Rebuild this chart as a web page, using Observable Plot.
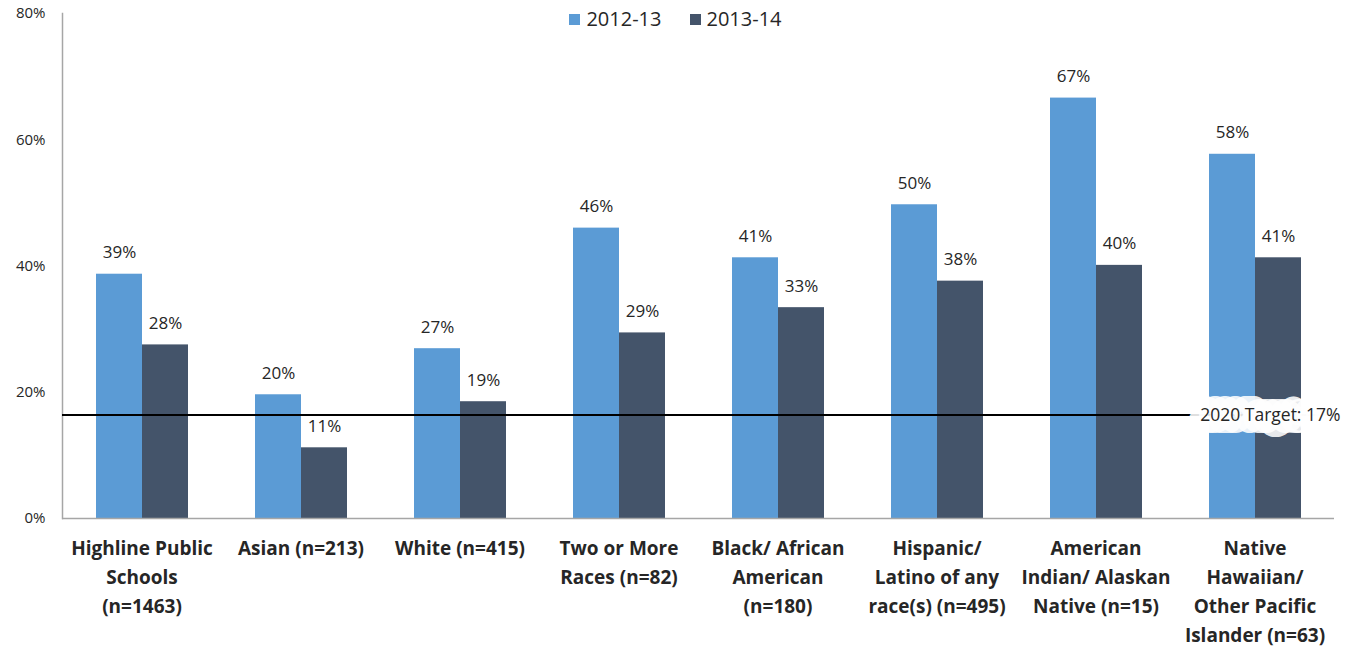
<!DOCTYPE html>
<html>
<head>
<meta charset="utf-8">
<script src="https://cdn.jsdelivr.net/npm/d3@7"></script>
<script src="https://cdn.jsdelivr.net/npm/@observablehq/plot@0.6"></script>
<style>
  body { margin: 0; background: #fff; font-family: "Open Sans", Lato, sans-serif; }
  #wrap { position: relative; width: 1351px; height: 650px; }
  #legend { position: absolute; top: 5px; left: 0; width: 1351px; text-align: center; font-size: 20px; color: #262626; }
  #legend span.item { margin: 0 14px; }
  #legend span.sw { display: inline-block; width: 11px; height: 11px; margin-right: 6px; vertical-align: 1px; }
</style>
</head>
<body>
<div id="wrap">
  <div id="chart"></div>
  <div id="legend"></div>
</div>
<script>
const categories = [
  "Highline Public\nSchools\n(n=1463)",
  "Asian (n=213)",
  "White (n=415)",
  "Two or More\nRaces (n=82)",
  "Black/ African\nAmerican\n(n=180)",
  "Hispanic/\nLatino of any\nrace(s) (n=495)",
  "American\nIndian/ Alaskan\nNative (n=15)",
  "Native\nHawaiian/\nOther Pacific\nIslander (n=63)"
];
const series = ["2012-13", "2013-14"];
const values2012 = [38.7, 19.6, 26.9, 46.0, 41.3, 49.7, 66.6, 57.7];
const values2013 = [27.5, 11.2, 18.5, 29.4, 33.4, 37.6, 40.1, 41.3];
const yTicks = [0, 20, 40, 60, 80];
const target = 16.4;
const targetLabel = "2020 Target: 17%";
const colors = ["#5B9BD5", "#44546A"];

const rows = [];
categories.forEach((c, i) => {
  rows.push({cat: c, series: series[0], value: values2012[i]});
  rows.push({cat: c, series: series[1], value: values2013[i]});
});

const chart = Plot.plot({
  width: 1351,
  height: 650,
  marginLeft: 60,
  marginRight: 16,
  marginTop: 13,
  marginBottom: 132,
  style: {fontFamily: "'Open Sans', Lato, sans-serif", color: "#262626", background: "white"},
  fx: {domain: categories, padding: 0},
  x: {domain: series, paddingInner: 0, paddingOuter: 0.71, axis: null},
  y: {domain: [0, 80]},
  color: {domain: series, range: colors},
  marks: [
    Plot.barY(rows, {fx: "cat", x: "series", y: "value", fill: "series"}),
    Plot.text(rows, {fx: "cat", x: "series", y: "value", text: d => Math.round(d.value) + "%",
      lineAnchor: "bottom", dy: -16, fontSize: 17, fill: "#262626"}),
    Plot.ruleY([0], {stroke: "#a6a6a6", strokeWidth: 1.5}),
    Plot.frame({anchor: "left", facet: "super", stroke: "#a6a6a6", strokeWidth: 1.5}),
    Plot.ruleY([target], {stroke: "black", strokeWidth: 2.2}),
    Plot.text([{cat: categories[categories.length - 1], y: target, label: targetLabel}], {
      fx: "cat", y: "y", text: "label", frameAnchor: "right", textAnchor: "end", dx: 6,
      fontSize: 17.5, fill: "#262626", stroke: "white", strokeOpacity: 0.9, strokeWidth: 24,
      strokeLinejoin: "round"
    }),
    Plot.axisY({ticks: yTicks, tickFormat: d => d + "%", tickSize: 0, tickPadding: 17, fontSize: 15, label: null}),
    Plot.axisFx({anchor: "bottom", tickSize: 0, tickPadding: 16, fontSize: 19, fontWeight: "bold",
      lineHeight: 1.53, label: null})
  ]
});
document.getElementById("chart").appendChild(chart);

const legend = document.getElementById("legend");
series.forEach((s, i) => {
  const item = document.createElement("span");
  item.className = "item";
  const sw = document.createElement("span");
  sw.className = "sw";
  sw.style.background = colors[i];
  item.appendChild(sw);
  item.appendChild(document.createTextNode(s));
  legend.appendChild(item);
});
</script>
</body>
</html>
